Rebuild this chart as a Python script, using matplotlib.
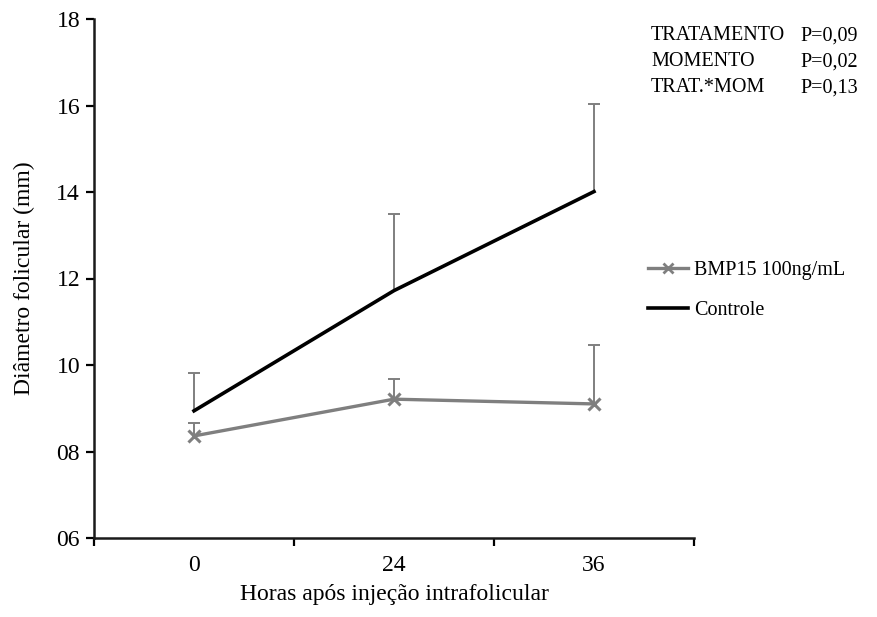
import matplotlib
matplotlib.use("Agg")
import matplotlib.pyplot as plt
from matplotlib.lines import Line2D

plt.rcParams['font.family'] = ['Liberation Serif', 'DejaVu Serif']

# Hours after intrafollicular injection
categories = ["0", "24", "36"]

# Follicular diameter (mm): means and upper error (mean + SD)
controle_mean = [8.94, 11.72, 14.01]
controle_upper = [9.82, 13.48, 16.03]
bmp15_mean = [8.36, 9.21, 9.10]
bmp15_upper = [8.67, 9.67, 10.46]

y_ticks = [6, 8, 10, 12, 14, 16, 18]
y_tick_labels = ["06", "08", "10", "12", "14", "16", "18"]

stats_labels = ["TRATAMENTO", "MOMENTO", "TRAT.*MOM"]
stats_values = ["P=0,09", "P=0,02", "P=0,13"]

fig = plt.figure(figsize=(8.77, 6.17), dpi=100)
ax = fig.add_axes([94/877, 1 - 538/617, 600/877, 519/617])

x = [i + 0.5 for i in range(len(categories))]
gray = "#7f7f7f"


def upper_bars(xs, means, uppers):
    # one-sided (upward) error bars with a small cap at the top
    ax.vlines(xs, means, uppers, color=gray, lw=1.4, zorder=2)
    ax.plot(xs, uppers, ls="none", marker="_", markersize=9,
            markeredgewidth=1.4, color=gray, zorder=2)


upper_bars(x, controle_mean, controle_upper)
upper_bars(x, bmp15_mean, bmp15_upper)
ax.plot(x, controle_mean, color="black", lw=2.6, zorder=3)
ax.plot(x, bmp15_mean, color=gray, lw=2.4, marker="x", markersize=9,
        markeredgewidth=2.2, zorder=3)

ax.set_xlim(0, 3)
ax.set_ylim(6, 18)
ax.set_xticks([0, 1, 2, 3])
ax.set_xticklabels([])
ax.set_xticks(x, minor=True)
ax.set_xticklabels(categories, minor=True)
ax.tick_params(axis="x", which="minor", length=0, pad=12, labelsize=17)
ax.tick_params(axis="x", which="major", length=6, width=1.6, direction="out")
ax.set_yticks(y_ticks)
ax.set_yticklabels(y_tick_labels)
ax.tick_params(axis="y", length=6, width=1.6, direction="out", labelsize=17, pad=4)

for s in ["top", "right"]:
    ax.spines[s].set_visible(False)
for s in ["left", "bottom"]:
    ax.spines[s].set_linewidth(1.8)
    ax.spines[s].set_color("#1a1a1a")

ax.set_xlabel("Horas após injeção intrafolicular", fontsize=17, labelpad=6)
ax.set_ylabel("Diâmetro folicular (mm)", fontsize=17, labelpad=15)

handles = [
    Line2D([], [], color=gray, lw=2.4, marker="x", markersize=7, markeredgewidth=2),
    Line2D([], [], color="black", lw=2.6),
]
fig.legend(handles, ["BMP15 100ng/mL", "Controle"], loc="upper left",
           bbox_to_anchor=(630/877, 1 - 243/617), frameon=False, fontsize=14.5,
           handlelength=2.0, handletextpad=0.3, labelspacing=1.05)

for i, (lab, val) in enumerate(zip(stats_labels, stats_values)):
    yy = 1 - (36 + 26 * i) / 617
    fig.text(651/877, yy, lab, fontsize=14.5, va="center", ha="left")
    fig.text(800/877, yy, val, fontsize=14.5, va="center", ha="left")

fig.savefig("out.png", dpi=100)
